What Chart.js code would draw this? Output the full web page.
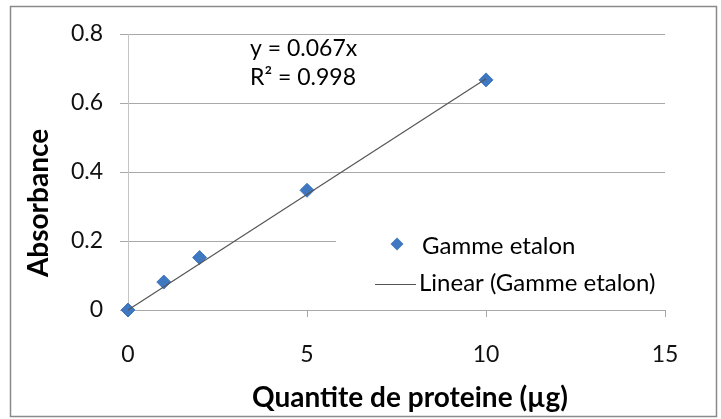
<!DOCTYPE html>
<html>
<head>
<meta charset="utf-8">
<script src="https://cdn.jsdelivr.net/npm/chart.js@4.4.1/dist/chart.umd.min.js"></script>
<style>
  html, body { margin: 0; padding: 0; background: #fff; }
  #wrap { width: 721px; height: 419px; }
</style>
</head>
<body>
<div id="wrap"><canvas id="chart" width="721" height="419"></canvas></div>
<script>
// values
const quantities = [0, 1, 2, 5, 10];               // µg
const absorbances = [0, 0.081, 0.152, 0.347, 0.667];
const trendX = [0, 10];
const trendY = [0, 0.67];
const xTicks = [0, 5, 10, 15];
const yTicks = [0, 0.2, 0.4, 0.6, 0.8];
const seriesLabel = 'Gamme etalon';
const trendLabel = 'Linear (Gamme etalon)';
const equationLines = ['y = 0.067x', 'R² = 0.998'];
const xTitle = 'Quantite de proteine (µg)';
const yTitle = 'Absorbance';

const FONT = 'Lato, "Open Sans", sans-serif';
const BLUE = '#3f78c0';
const TREND = '#555555';
const GRID = '#a8a8a8';

// frame, axis titles, equation and the in-plot legend (Excel style)
const decorPlugin = {
    id: 'decor',
    afterDraw(chart) {
        const ctx = chart.ctx;
        ctx.save();

        ctx.strokeStyle = '#8a8a8a';
        ctx.lineWidth = 1.5;
        ctx.strokeRect(10.5, 6.5, 706, 410);

        ctx.fillStyle = '#000';
        ctx.font = 'bold 28px ' + FONT;
        ctx.textAlign = 'center';
        ctx.textBaseline = 'middle';
        ctx.fillText(xTitle, 410, 398);
        ctx.save();
        ctx.translate(39, 203);
        ctx.rotate(-Math.PI / 2);
        ctx.fillText(yTitle, 0, 0);
        ctx.restore();

        ctx.font = '23px ' + FONT;
        ctx.textAlign = 'left';
        equationLines.forEach((t, i) => ctx.fillText(t, 250, 49 + i * 29));

        // legend box hides the gridline behind it
        ctx.fillStyle = '#fff';
        ctx.fillRect(336, 226, 331, 72);

        const pts = chart.data.datasets[1];
        const trend = chart.data.datasets[0];

        ctx.fillStyle = pts.backgroundColor;
        ctx.beginPath();
        ctx.moveTo(397, 244 - 6.5);
        ctx.lineTo(397 + 6.5, 244);
        ctx.lineTo(397, 244 + 6.5);
        ctx.lineTo(397 - 6.5, 244);
        ctx.closePath();
        ctx.fill();

        ctx.strokeStyle = trend.borderColor;
        ctx.lineWidth = trend.borderWidth;
        ctx.beginPath();
        ctx.moveTo(375, 284.5);
        ctx.lineTo(416, 284.5);
        ctx.stroke();

        ctx.fillStyle = '#000';
        ctx.font = '24px ' + FONT;
        ctx.fillText(pts.label, 422, 246);
        ctx.fillText(trend.label, 419, 283);

        ctx.restore();
    }
};

new Chart(document.getElementById('chart'), {
    type: 'scatter',
    data: {
        datasets: [
            {
                type: 'line',
                label: trendLabel,
                data: trendX.map((x, i) => ({ x: x, y: trendY[i] })),
                borderColor: TREND,
                borderWidth: 1.2,
                pointRadius: 0,
                fill: false,
                clip: false,
                order: 0
            },
            {
                label: seriesLabel,
                data: quantities.map((x, i) => ({ x: x, y: absorbances[i] })),
                backgroundColor: BLUE,
                borderColor: BLUE,
                borderWidth: 1,
                pointStyle: 'rectRot',
                pointRadius: 7,
                clip: false,
                order: 1
            }
        ]
    },
    options: {
        responsive: false,
        animation: false,
        devicePixelRatio: 1,
        layout: { padding: { left: 0, top: 34, right: 56, bottom: 0 } },
        plugins: {
            legend: { display: false },
            tooltip: { enabled: false }
        },
        scales: {
            x: {
                type: 'linear',
                min: xTicks[0],
                max: xTicks[xTicks.length - 1],
                afterBuildTicks: s => { s.ticks = xTicks.map(v => ({ value: v })); },
                afterFit: s => { s.height = 109; },
                grid: { drawOnChartArea: false, drawTicks: true, tickLength: 7, color: GRID },
                border: { color: GRID, width: 1 },
                ticks: { padding: 24, color: '#111', font: { family: FONT, size: 23 } }
            },
            y: {
                type: 'linear',
                min: yTicks[0],
                max: yTicks[yTicks.length - 1],
                afterBuildTicks: s => { s.ticks = yTicks.map(v => ({ value: v })); },
                afterFit: s => { s.width = 128; },
                grid: { color: GRID, lineWidth: 1, tickLength: 8 },
                border: { color: '#c4c4c4', width: 1 },
                ticks: { padding: 17, color: '#111', font: { family: FONT, size: 23 } }
            }
        }
    },
    plugins: [decorPlugin]
});
</script>
</body>
</html>
